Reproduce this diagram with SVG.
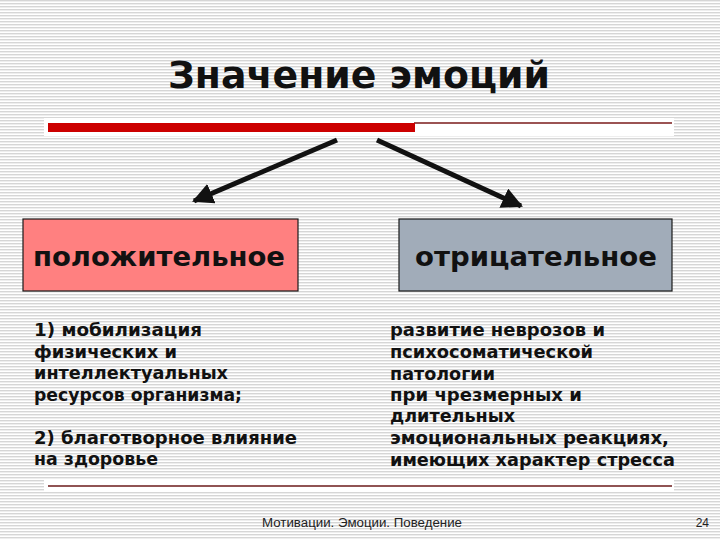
<svg xmlns="http://www.w3.org/2000/svg" width="720" height="540" viewBox="0 0 720 540">
  <defs>
    <pattern id="stripes" x="0" y="0" width="6" height="3" patternUnits="userSpaceOnUse">
      <rect x="0" y="0" width="6" height="3" fill="#ffffff"/>
      <rect x="0" y="0" width="6" height="1.4" fill="#d6d6d6"/>
    </pattern>
    <marker id="head" viewBox="0 0 10 10" refX="9" refY="5" markerWidth="4.2" markerHeight="4.2" orient="auto" markerUnits="strokeWidth">
      <path d="M0,0 L10,5 L0,10 Z" fill="#111111"/>
    </marker>
    <style>
      .title { font-family: "DejaVu Sans", Verdana, sans-serif; font-weight: bold; font-size: 38px; fill: #111111; }
      .head { font-family: "DejaVu Sans", Verdana, sans-serif; font-weight: bold; font-size: 26px; fill: #111111; }
      .body { font-family: "DejaVu Sans", Verdana, sans-serif; font-weight: bold; font-size: 17px; fill: #111111; }
      .foot { font-family: "Liberation Sans", Arial, sans-serif; font-size: 12px; fill: #222222; }
      .arrow { stroke: #111111; stroke-width: 5; fill: none; marker-end: url(#head); }
      .box { stroke: #1a1a1a; stroke-width: 1.2; }
    </style>
  </defs>

  <rect x="0" y="0" width="720" height="540" fill="url(#stripes)"/>

  <g id="title">
    <text class="title" x="168" y="88" textLength="382" lengthAdjust="spacingAndGlyphs">Значение эмоций</text>
  </g>

  <g id="rules">
    <rect x="44" y="118" width="630" height="18" fill="#ffffff"/>
    <line x1="414" y1="123" x2="672" y2="123" stroke="#7a1a1a" stroke-width="1.5"/>
    <rect x="48" y="123" width="367" height="9" fill="#cc0000"/>
    <rect x="44" y="480" width="630" height="12" fill="#ffffff"/>
    <line x1="48" y1="486" x2="672" y2="486" stroke="#6b1a1a" stroke-width="1.5"/>
  </g>

  <g id="connectors">
    <line class="arrow" x1="337" y1="140" x2="194" y2="201"/>
    <line class="arrow" x1="377" y1="140" x2="521" y2="206"/>
  </g>

  <g id="node-positive">
    <rect class="box" x="23" y="219" width="275" height="72" fill="#ff8080"/>
    <text class="head" x="33" y="266" textLength="252" lengthAdjust="spacingAndGlyphs">положительное</text>
  </g>

  <g id="node-negative">
    <rect class="box" x="399" y="219" width="273" height="72" fill="#a1acb9"/>
    <text class="head" x="415" y="266" textLength="242" lengthAdjust="spacingAndGlyphs">отрицательное</text>
  </g>

  <g id="list-positive">
    <text class="body" x="34" y="336" textLength="168" lengthAdjust="spacingAndGlyphs">1) мобилизация</text>
    <text class="body" x="34" y="358" textLength="143" lengthAdjust="spacingAndGlyphs">физических и</text>
    <text class="body" x="34" y="379" textLength="194" lengthAdjust="spacingAndGlyphs">интеллектуальных</text>
    <text class="body" x="34" y="401" textLength="208" lengthAdjust="spacingAndGlyphs">ресурсов организма;</text>
    <text class="body" x="34" y="444" textLength="263" lengthAdjust="spacingAndGlyphs">2) благотворное влияние</text>
    <text class="body" x="34" y="465" textLength="124" lengthAdjust="spacingAndGlyphs">на здоровье</text>
  </g>

  <g id="list-negative">
    <text class="body" x="390" y="336" textLength="215" lengthAdjust="spacingAndGlyphs">развитие неврозов и</text>
    <text class="body" x="390" y="358" textLength="203" lengthAdjust="spacingAndGlyphs">психосоматической</text>
    <text class="body" x="390" y="380" textLength="105" lengthAdjust="spacingAndGlyphs">патологии</text>
    <text class="body" x="390" y="401" textLength="192" lengthAdjust="spacingAndGlyphs">при чрезмерных и</text>
    <text class="body" x="390" y="422" textLength="125" lengthAdjust="spacingAndGlyphs">длительных</text>
    <text class="body" x="390" y="444" textLength="279" lengthAdjust="spacingAndGlyphs">эмоциональных реакциях,</text>
    <text class="body" x="390" y="466" textLength="285" lengthAdjust="spacingAndGlyphs">имеющих характер стресса</text>
  </g>

  <g id="footer">
    <text class="foot" x="262" y="527" textLength="200" lengthAdjust="spacingAndGlyphs">Мотивации. Эмоции. Поведение</text>
    <text class="foot" x="709" y="527" text-anchor="end">24</text>
  </g>
</svg>
